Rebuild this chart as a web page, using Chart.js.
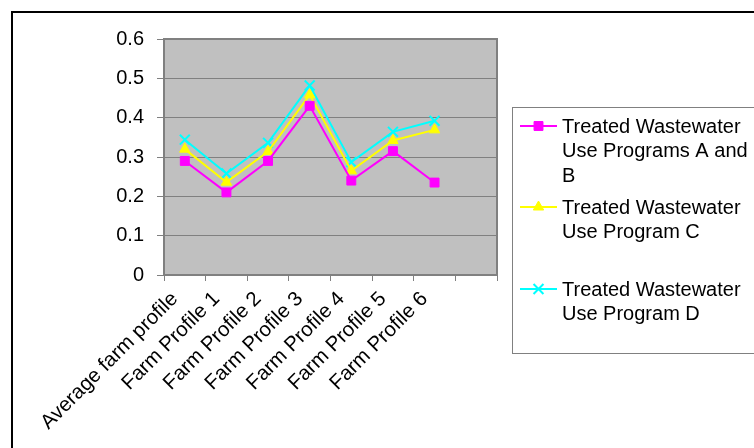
<!DOCTYPE html>
<html>
<head>
<meta charset="utf-8">
<script src="https://cdn.jsdelivr.net/npm/chart.js@4/dist/chart.umd.min.js"></script>
<style>
  html, body { margin: 0; padding: 0; background: #fff; }
  #wrap { width: 754px; height: 448px; position: relative; }
</style>
</head>
<body>
<div id="wrap"><canvas id="c" width="754" height="448"></canvas></div>
<script>
const categories = ["Average farm profile", "Farm Profile 1", "Farm Profile 2", "Farm Profile 3", "Farm Profile 4", "Farm Profile 5", "Farm Profile 6", ""];
const programsAB = [0.29, 0.21, 0.29, 0.43, 0.24, 0.315, 0.235, null];
const programC   = [0.32, 0.236, 0.314, 0.458, 0.265, 0.342, 0.369, null];
const programD   = [0.344, 0.258, 0.336, 0.482, 0.287, 0.364, 0.392, null];
const seriesLabels = ["Treated Wastewater Use Programs A and B", "Treated Wastewater Use Program C", "Treated Wastewater Use Program D"];
const yTicks = [0, 0.1, 0.2, 0.3, 0.4, 0.5, 0.6];

const FONT = "'Liberation Sans', Arial, sans-serif";

const plotBg = {
  id: 'plotBg',
  beforeDraw(chart) {
    const { ctx, chartArea: a } = chart;
    ctx.save();
    ctx.strokeStyle = '#000';
    ctx.lineWidth = 2;
    ctx.strokeRect(12, 12, 800, 500);
    ctx.fillStyle = '#c0c0c0';
    ctx.fillRect(a.left, a.top, a.right - a.left, a.bottom - a.top);
    ctx.restore();
  },
  beforeDatasetsDraw(chart) {
    const { ctx, chartArea: a } = chart;
    ctx.save();
    ctx.strokeStyle = '#808080';
    ctx.lineWidth = 2;
    ctx.strokeRect(a.left, a.top, a.right - a.left, a.bottom - a.top);
    ctx.restore();
  }
};

const customLegend = {
  id: 'customLegend',
  afterDraw(chart) {
    const ctx = chart.ctx;
    ctx.save();
    const boxL = 512, boxT = 107, boxB = 353;
    ctx.strokeStyle = '#808080';
    ctx.lineWidth = 1;
    ctx.strokeRect(boxL + 0.5, boxT + 0.5, 300, boxB - boxT);
    ctx.font = '20px ' + FONT;
    ctx.textBaseline = 'alphabetic';
    ctx.fillStyle = '#000';
    const itemY = [126, 207, 289];
    const textX = 562, maxW = 192, lineH = 24.5;
    chart.data.datasets.forEach((ds, i) => {
      const y = itemY[i];
      ctx.strokeStyle = ds.borderColor;
      ctx.lineWidth = 2;
      ctx.beginPath();
      ctx.moveTo(520, y);
      ctx.lineTo(557, y);
      ctx.stroke();
      ctx.fillStyle = ds.pointBackgroundColor;
      ctx.strokeStyle = ds.pointBorderColor;
      ctx.lineWidth = ds.pointBorderWidth;
      Chart.helpers.drawPoint(ctx, { pointStyle: ds.pointStyle, radius: ds.pointRadius, rotation: 0, borderWidth: ds.pointBorderWidth }, 538.5, y);
      const words = ds.label.split(' ');
      const lines = [];
      let cur = '';
      words.forEach(w => {
        const t = cur ? cur + ' ' + w : w;
        if (ctx.measureText(t).width > maxW && cur) { lines.push(cur); cur = w; }
        else cur = t;
      });
      if (cur) lines.push(cur);
      ctx.fillStyle = '#000';
      lines.forEach((ln, k) => ctx.fillText(ln, textX, y + 6.5 + k * lineH));
    });
    ctx.restore();
  }
};

new Chart(document.getElementById('c'), {
  type: 'line',
  data: {
    labels: categories,
    datasets: [
      { label: seriesLabels[0], data: programsAB, borderColor: '#ff00ff', backgroundColor: '#ff00ff',
        pointStyle: 'rect', pointRadius: 6.3, pointBackgroundColor: '#ff00ff', pointBorderColor: '#ff00ff', pointBorderWidth: 1, borderWidth: 2, tension: 0 },
      { label: seriesLabels[1], data: programC, borderColor: '#ffff00', backgroundColor: '#ffff00',
        pointStyle: 'triangle', pointRadius: 6, pointBackgroundColor: '#ffff00', pointBorderColor: '#ffff00', pointBorderWidth: 1, borderWidth: 2, tension: 0 },
      { label: seriesLabels[2], data: programD, borderColor: '#00ffff', backgroundColor: '#00ffff',
        pointStyle: 'crossRot', pointRadius: 7, pointBackgroundColor: '#00ffff', pointBorderColor: '#00ffff', pointBorderWidth: 2, borderWidth: 2, tension: 0 }
    ]
  },
  options: {
    responsive: false,
    animation: false,
    devicePixelRatio: 1,
    layout: { padding: { left: 104, top: 39, right: 257, bottom: 0 } },
    plugins: { legend: { display: false }, tooltip: { enabled: false }, title: { display: false } },
    scales: {
      x: {
        type: 'category',
        offset: true,
        grid: { offset: true, drawOnChartArea: false, drawTicks: true, tickLength: 6, color: '#808080', lineWidth: 1 },
        border: { display: false },
        ticks: { autoSkip: false, minRotation: 45, maxRotation: 45, color: '#000', padding: 6, labelOffset: -10, font: { family: FONT, size: 20.5 } },
        afterFit(s) { s.height = 173; }
      },
      y: {
        min: 0, max: 0.6,
        afterBuildTicks(s) { s.ticks = yTicks.map(v => ({ value: v })); },
        grid: { color: '#808080', lineWidth: 1, tickLength: 7 },
        border: { display: false },
        ticks: { color: '#000', padding: 13, font: { family: FONT, size: 20 }, callback: v => String(v) },
        afterFit(s) { s.width = 60; }
      }
    }
  },
  plugins: [plotBg, customLegend]
});
</script>
</body>
</html>
